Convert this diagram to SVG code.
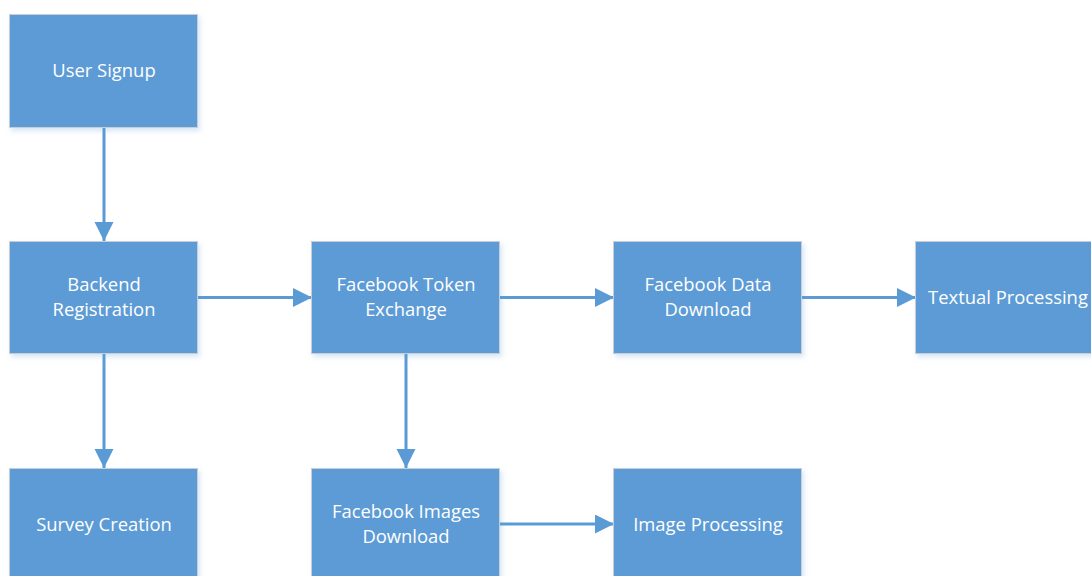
<svg xmlns="http://www.w3.org/2000/svg" width="1091" height="576" viewBox="0 0 1091 576">
<style>
.box{fill:#5B9BD5;stroke:#C9CED6;stroke-width:1;filter:url(#sh)}
.t{font-family:"Open Sans","Liberation Sans",sans-serif;font-size:18.4px;fill:#FFFFFF;text-anchor:middle}
.c{stroke:#5B9BD5;stroke-width:3;fill:none;marker-end:url(#ah)}
</style>
<defs>
<filter id="sh" x="-10%" y="-10%" width="130%" height="130%">
<feDropShadow dx="2" dy="3" stdDeviation="2.5" flood-color="#5B9BD5" flood-opacity="0.25"/>
</filter>
<marker id="ah" markerUnits="userSpaceOnUse" markerWidth="20" markerHeight="20" refX="19" refY="9.5" orient="auto">
<path d="M0,0 L19,9.5 L0,19 Z" fill="#5B9BD5"/>
</marker>
</defs>
<rect width="1091" height="576" fill="#FFFFFF"/>
<g id="connectors">
<path class="c" d="M104,127 V241"/>
<path class="c" d="M104,354 V468"/>
<path class="c" d="M406,354 V468"/>
<path class="c" d="M198,297.5 H312"/>
<path class="c" d="M500,297.5 H614"/>
<path class="c" d="M802,297.5 H916"/>
<path class="c" d="M500,524 H614"/>
</g>
<g id="user-signup"><rect class="box" x="9.5" y="14.5" width="188" height="113"/><text class="t" x="104" y="77">User Signup</text></g>
<g id="backend-registration"><rect class="box" x="9.5" y="241.5" width="188" height="112"/><text class="t" x="104" y="291">Backend</text><text class="t" x="104" y="316">Registration</text></g>
<g id="facebook-token-exchange"><rect class="box" x="311.5" y="241.5" width="188" height="112"/><text class="t" x="406" y="291">Facebook Token</text><text class="t" x="406" y="316">Exchange</text></g>
<g id="facebook-data-download"><rect class="box" x="613.5" y="241.5" width="188" height="112"/><text class="t" x="708" y="291">Facebook Data</text><text class="t" x="708" y="316">Download</text></g>
<g id="textual-processing"><rect class="box" x="915.5" y="241.5" width="188" height="112"/><text class="t" x="1008" y="304">Textual Processing</text></g>
<g id="survey-creation"><rect class="box" x="9.5" y="468.5" width="188" height="113"/><text class="t" x="104" y="531">Survey Creation</text></g>
<g id="facebook-images-download"><rect class="box" x="311.5" y="468.5" width="188" height="113"/><text class="t" x="406" y="518">Facebook Images</text><text class="t" x="406" y="543">Download</text></g>
<g id="image-processing"><rect class="box" x="613.5" y="468.5" width="188" height="113"/><text class="t" x="708" y="531">Image Processing</text></g>
</svg>
